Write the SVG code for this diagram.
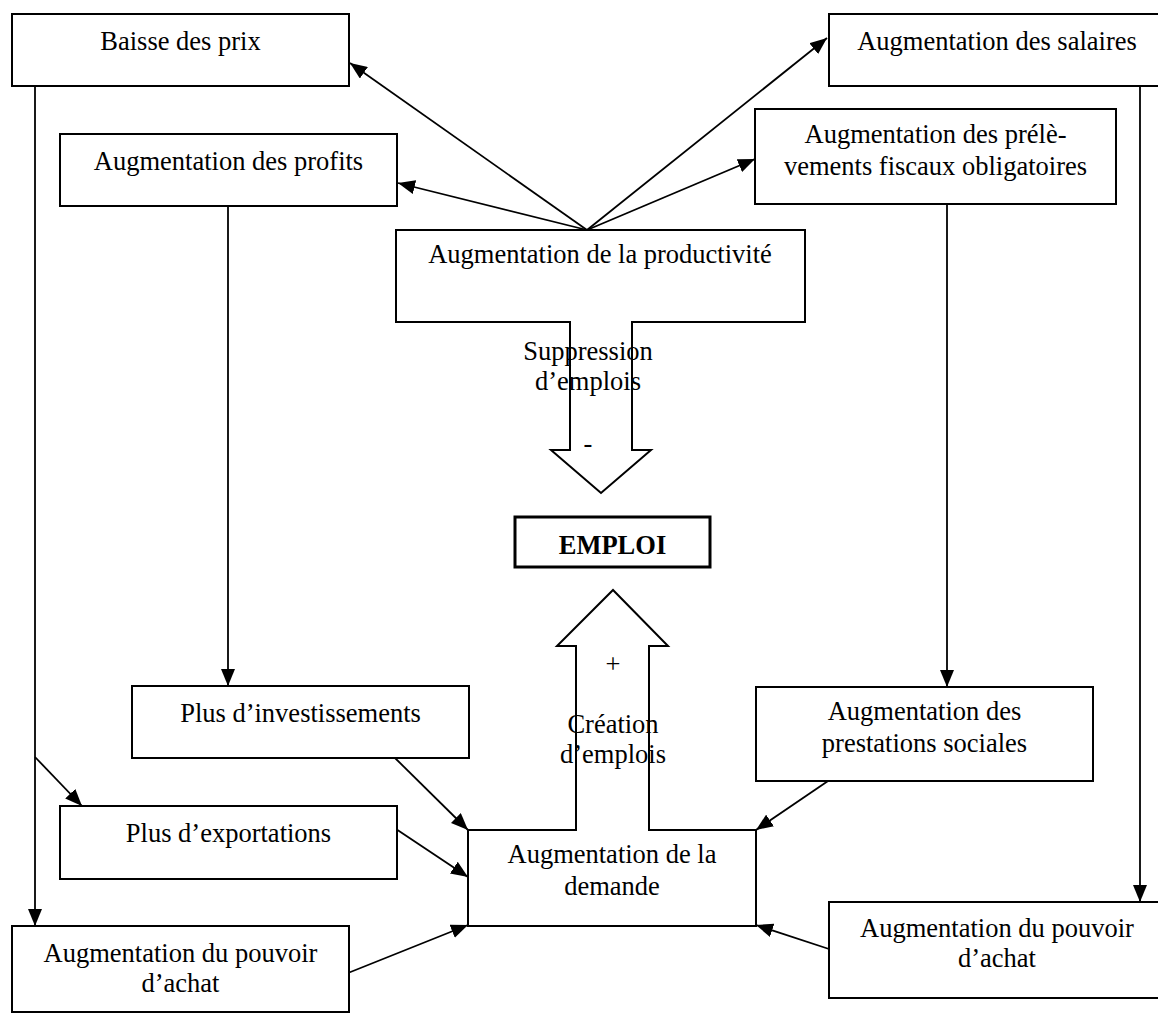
<svg xmlns="http://www.w3.org/2000/svg" width="1158" height="1016" viewBox="0 0 1158 1016">
<style>
.box{fill:#fff;stroke:#000;stroke-width:2}
.t{font-family:"Liberation Serif","Times New Roman",serif;font-size:26.5px;fill:#000;text-anchor:middle}
.b{font-weight:bold}
.c{stroke:#000;stroke-width:1.8;fill:none}
.a{marker-end:url(#ah)}
</style>
<defs>
<marker id="ah" viewBox="0 0 17 14" refX="17" refY="7" markerWidth="17" markerHeight="14" markerUnits="userSpaceOnUse" orient="auto">
<path d="M0,0 L17,7 L0,14 z" fill="#000"/>
</marker>
</defs>
<rect width="1158" height="1016" fill="#fff"/>
<g id="connectors">
<line class="c a" x1="587" y1="230" x2="350" y2="63"/>
<line class="c a" x1="587" y1="230" x2="398" y2="183"/>
<line class="c a" x1="587" y1="230" x2="827" y2="38"/>
<line class="c a" x1="587" y1="230" x2="755" y2="159"/>
<line class="c a" x1="35" y1="86" x2="35" y2="926"/>
<line class="c a" x1="35" y1="757" x2="82" y2="806"/>
<line class="c a" x1="228" y1="206" x2="228" y2="686"/>
<line class="c a" x1="947" y1="204" x2="947" y2="687"/>
<line class="c a" x1="1140" y1="86" x2="1140" y2="902"/>
<line class="c a" x1="395" y1="758" x2="468" y2="830"/>
<line class="c a" x1="396" y1="829" x2="468" y2="877"/>
<line class="c a" x1="348" y1="973" x2="468" y2="925"/>
<line class="c a" x1="828" y1="781" x2="756" y2="830"/>
<line class="c a" x1="829" y1="949" x2="756" y2="925"/>
</g>
<g id="baisse-prix">
<rect class="box" x="12" y="14" width="337" height="72"/>
<text class="t" x="180.5" y="50">Baisse des prix</text>
</g>
<g id="aug-profits">
<rect class="box" x="60" y="134" width="337" height="72"/>
<text class="t" x="228.5" y="170">Augmentation des profits</text>
</g>
<g id="aug-salaires">
<rect class="box" x="829" y="14" width="336" height="72"/>
<text class="t" x="997" y="50">Augmentation des salaires</text>
</g>
<g id="aug-prelevements">
<rect class="box" x="755" y="109" width="361" height="95"/>
<text class="t" x="935.5" y="143">Augmentation des prélè-</text>
<text class="t" x="935.5" y="175">vements fiscaux obligatoires</text>
</g>
<g id="aug-productivite">
<path class="box" d="M396,230 H805 V322 H632 V450 H651 L601,493 L551,450 H570 V322 H396 Z"/>
<text class="t" x="600" y="263">Augmentation de la productivité</text>
<text class="t" x="588" y="360">Suppression</text>
<text class="t" x="588" y="390">d’emplois</text>
<text class="t" x="588" y="452">-</text>
</g>
<g id="emploi">
<rect x="515" y="517" width="195" height="50" fill="#fff" stroke="#000" stroke-width="3"/>
<text class="t b" x="612.5" y="554">EMPLOI</text>
</g>
<g id="aug-demande">
<path class="box" d="M468,830 H576 V646 H557 L613,590 L668,646 H649 V830 H756 V926 H468 Z"/>
<text class="t" x="613" y="673">+</text>
<text class="t" x="613" y="733">Création</text>
<text class="t" x="613" y="763">d’emplois</text>
<text class="t" x="612" y="863">Augmentation de la</text>
<text class="t" x="612" y="895">demande</text>
</g>
<g id="plus-investissements">
<rect class="box" x="132" y="686" width="337" height="72"/>
<text class="t" x="300.5" y="722">Plus d’investissements</text>
</g>
<g id="plus-exportations">
<rect class="box" x="60" y="806" width="337" height="73"/>
<text class="t" x="228.5" y="842">Plus d’exportations</text>
</g>
<g id="pouvoir-achat-gauche">
<rect class="box" x="12" y="926" width="337" height="86"/>
<text class="t" x="180.5" y="962">Augmentation du pouvoir</text>
<text class="t" x="180.5" y="992">d’achat</text>
</g>
<g id="prestations-sociales">
<rect class="box" x="756" y="687" width="337" height="94"/>
<text class="t" x="924.5" y="720">Augmentation des</text>
<text class="t" x="924.5" y="752">prestations sociales</text>
</g>
<g id="pouvoir-achat-droite">
<rect class="box" x="829" y="902" width="336" height="96"/>
<text class="t" x="997" y="937">Augmentation du pouvoir</text>
<text class="t" x="997" y="967">d’achat</text>
</g>
</svg>
